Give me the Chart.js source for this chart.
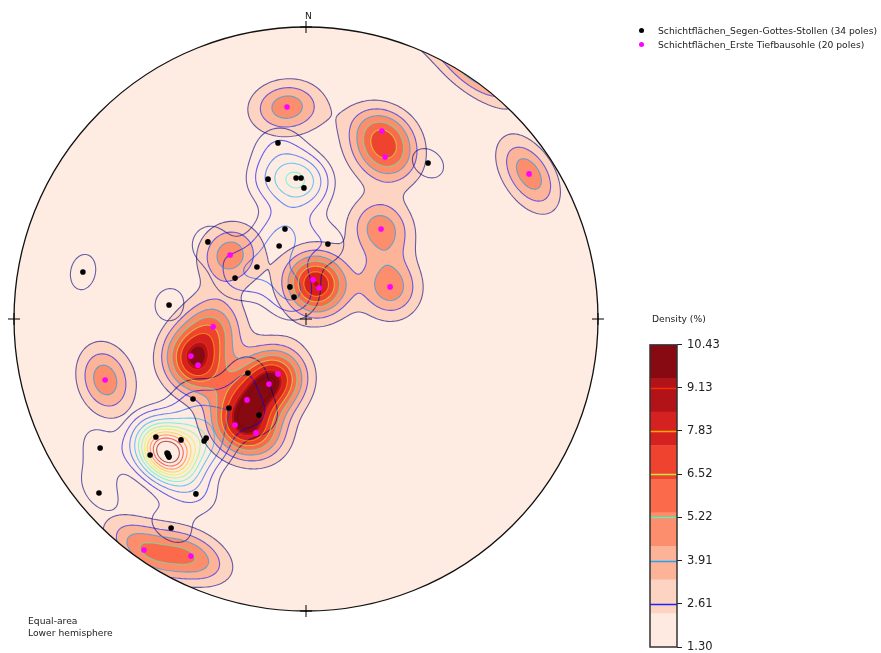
<!DOCTYPE html>
<html><head><meta charset="utf-8">
<script src="https://cdn.jsdelivr.net/npm/chart.js@4.4.0/dist/chart.umd.min.js"></script>
<style>
html,body{margin:0;padding:0;background:#fff;width:881px;height:653px;overflow:hidden;font-family:"DejaVu Sans",sans-serif;}
canvas{position:absolute;}
#main{left:0;top:0;width:881px;height:653px;}
#cbar{left:630px;top:333px;width:251px;height:330px;}
.t{position:absolute;font-size:9.2px;line-height:11px;color:#222;white-space:nowrap;}
.dot{position:absolute;width:5px;height:5px;border-radius:50%;}
</style></head><body>
<canvas id="main" width="881" height="653"></canvas>
<canvas id="cbar" width="251" height="330"></canvas>
<div class="t" style="left:305px;top:10px;">N</div>
<div class="dot" style="left:638.5px;top:27.8px;background:#000;"></div>
<div class="t" style="left:658px;top:24.8px;">Schichtflächen_Segen-Gottes-Stollen (34 poles)</div>
<div class="dot" style="left:638.5px;top:42.2px;background:#ff00ff;"></div>
<div class="t" style="left:658px;top:39.2px;">Schichtflächen_Erste Tiefbausohle (20 poles)</div>
<div class="t" style="left:652px;top:312.5px;">Density (%)</div>
<div class="t" style="left:28px;top:614.5px;">Equal-area</div>
<div class="t" style="left:28px;top:626.5px;">Lower hemisphere</div>
<script>
// ---- data: pole positions in equal-area projected units (unit circle, north up) ----
const blackX = [-0.096,-0.130,-0.034,-0.017,-0.007,-0.072,0.418,-0.336,-0.092,-0.168,-0.243,-0.055,-0.041,-0.764,-0.469,-0.199,-0.387,-0.264,-0.161,-0.342,-0.349,-0.514,-0.428,-0.705,-0.534,-0.476,-0.469,-0.709,-0.377,-0.462,0.075,-0.473,-0.470,-0.473];
const blackY = [0.603,0.479,0.483,0.483,0.449,0.308,0.534,0.264,0.250,0.178,0.140,0.110,0.075,0.161,0.048,-0.185,-0.274,-0.305,-0.329,-0.408,-0.418,-0.404,-0.414,-0.442,-0.466,-0.459,-0.473,-0.596,-0.599,-0.716,0.257,-0.466,-0.469,-0.462];
const magentaX = [-0.065,0.260,0.271,0.764,0.257,0.024,0.045,0.288,-0.260,-0.318,-0.394,-0.370,-0.688,-0.096,-0.127,-0.202,-0.243,-0.171,-0.555,-0.394];
const magentaY = [0.726,0.644,0.555,0.497,0.308,0.134,0.106,0.110,0.219,-0.027,-0.127,-0.158,-0.209,-0.188,-0.223,-0.277,-0.363,-0.390,-0.791,-0.812];
const seriesNames = ['Schichtflächen_Segen-Gottes-Stollen (34 poles)','Schichtflächen_Erste Tiefbausohle (20 poles)'];
// contour levels (%) and colour bar
const lineLevels = [1.30,2.61,3.91,5.22,6.52,7.83,9.13,10.43];
const blackLevels = [2.1,3.5,5.2,7.0,8.7,10.3,11.8,13.3,14.8,16.3,17.7];
const fillLevels = [1.30,2.61,3.91,5.22,6.52,7.83,9.13,9.70];
const fillColors = ['#feebe1','#fdd3c1','#fcb398','#fc8d6d','#fb6b4b','#f0432f','#d52221','#b21318','#870a12'];
const cbarBounds = [1.30,2.31,3.33,4.34,5.36,6.37,7.39,8.40,9.42,10.43];
const cbarTicks = [1.30,2.61,3.91,5.22,6.52,7.83,9.13,10.43];
const KF_M = 97, KF_B = 110;      // kernel concentration

// ---- helpers ----
function lerpTab(t,x){for(let i=1;i<t.length;i++){if(x<=t[i][0]){const a=t[i-1],b=t[i];return a[1]+(b[1]-a[1])*(x-a[0])/(b[0]-a[0]);}}return t[t.length-1][1];}
const JR=[[0,0],[0.35,0],[0.66,1],[0.89,1],[1,0.5]],JG=[[0,0],[0.125,0],[0.375,1],[0.64,1],[0.91,0],[1,0]],JB=[[0,0.5],[0.11,1],[0.34,1],[0.65,0],[1,0]];
function jet(x,a){return `rgba(${Math.round(255*lerpTab(JR,x))},${Math.round(255*lerpTab(JG,x))},${Math.round(255*lerpTab(JB,x))},${a})`;}
function vec(X,Y){const r2=X*X+Y*Y;const s=Math.sqrt(Math.max(0,2-r2));return [X*s,Y*s,1-r2];}
function makeDensity(xs,ys,f){const n=xs.length,amp=95/n;const P=xs.map((x,i)=>vec(x,ys[i]));
  return (v)=>{let s=0;for(let k=0;k<P.length;k++){const p=P[k];const d=Math.abs(v[0]*p[0]+v[1]*p[1]+v[2]*p[2]);s+=Math.exp(f*(d-1));}return amp*s;};}
function hexRgb(h){return [parseInt(h.slice(1,3),16),parseInt(h.slice(3,5),16),parseInt(h.slice(5,7),16)];}

function contour(ctx,g,nx,ny,gx,gy,level){
  ctx.beginPath();
  for(let j=0;j<ny-1;j++){for(let i=0;i<nx-1;i++){
    const a=g[j*nx+i],b=g[j*nx+i+1],c=g[(j+1)*nx+i+1],d=g[(j+1)*nx+i];
    const idx=(a>=level?8:0)|(b>=level?4:0)|(c>=level?2:0)|(d>=level?1:0);
    if(idx===0||idx===15)continue;
    const x0=gx[i],x1=gx[i+1],y0=gy[j],y1=gy[j+1];
    const T=()=>[x0+(x1-x0)*(level-a)/(b-a),y0],Rr=()=>[x1,y0+(y1-y0)*(level-b)/(c-b)],
          B=()=>[x0+(x1-x0)*(level-d)/(c-d),y1],L=()=>[x0,y0+(y1-y0)*(level-a)/(d-a)];
    const seg=(p,q)=>{const u=p(),w=q();ctx.moveTo(u[0],u[1]);ctx.lineTo(w[0],w[1]);};
    switch(idx){
      case 1:seg(L,B);break;case 2:seg(B,Rr);break;case 3:seg(L,Rr);break;case 4:seg(T,Rr);break;
      case 5:seg(T,Rr);seg(L,B);break;case 6:seg(T,B);break;case 7:seg(T,L);break;case 8:seg(T,L);break;
      case 9:seg(T,B);break;case 10:seg(T,L);seg(B,Rr);break;case 11:seg(T,Rr);break;case 12:seg(L,Rr);break;
      case 13:seg(B,Rr);break;case 14:seg(L,B);break;}
  }}
  ctx.stroke();
}

const stereoPlugin={id:'stereo',
  beforeDatasetsDraw(chart){
    const ctx=chart.ctx,sx=chart.scales.x,sy=chart.scales.y;
    const cx=sx.getPixelForValue(0),cy=sy.getPixelForValue(0),R=sx.getPixelForValue(1)-cx;
    const dm=makeDensity(magentaX,magentaY,KF_M),db=makeDensity(blackX,blackY,KF_B);
    const rgb=fillColors.map(hexRgb);
    const SS=2;
    const ox=Math.floor(cx-R)-1,oy=Math.floor(cy-R)-1,W=Math.ceil(2*R)+3,H=W;
    const off=document.createElement('canvas');off.width=W*SS;off.height=H*SS;
    const octx=off.getContext('2d');const img=octx.createImageData(W*SS,H*SS);const dat=img.data;
    const colX=[];for(let i=0;i<W*SS;i++)colX.push(sx.getValueForPixel(ox+(i+0.5)/SS));
    for(let j=0;j<H*SS;j++){const Y=sy.getValueForPixel(oy+(j+0.5)/SS);
      for(let i=0;i<W*SS;i++){const X=colX[i];if(X*X+Y*Y>1.004)continue;
        const d=dm(vec(X,Y));let k=0;while(k<fillLevels.length&&d>=fillLevels[k])k++;
        const o=(j*W*SS+i)*4;dat[o]=rgb[k][0];dat[o+1]=rgb[k][1];dat[o+2]=rgb[k][2];dat[o+3]=255;}}
    octx.putImageData(img,0,0);
    ctx.save();
    ctx.beginPath();ctx.arc(cx,cy,R,0,2*Math.PI);ctx.clip();
    ctx.imageSmoothingEnabled=true;ctx.imageSmoothingQuality='high';
    ctx.drawImage(off,ox,oy,W,H);
    const h=2,gx=[],gy=[];
    for(let p=cx-R-4;p<=cx+R+4;p+=h)gx.push(p);
    for(let p=cy-R-4;p<=cy+R+4;p+=h)gy.push(p);
    const nx=gx.length,ny=gy.length,gm=new Float32Array(nx*ny),gb=new Float32Array(nx*ny);
    const gX=gx.map(p=>sx.getValueForPixel(p));
    for(let j=0;j<ny;j++){const Y=sy.getValueForPixel(gy[j]);
      for(let i=0;i<nx;i++){const X=gX[i];const r2=X*X+Y*Y;
        if(r2>1.9){gm[j*nx+i]=0;gb[j*nx+i]=0;continue;}
        const v=vec(X,Y);gm[j*nx+i]=dm(v);gb[j*nx+i]=db(v);}}
    ctx.lineWidth=1.1;ctx.lineJoin='round';
    for(let k=0;k<blackLevels.length;k++){ctx.strokeStyle=jet(k/(blackLevels.length-1),0.6);contour(ctx,gb,nx,ny,gx,gy,blackLevels[k]);}
    for(let k=0;k<lineLevels.length;k++){ctx.strokeStyle=jet(k/(lineLevels.length-1),0.6);contour(ctx,gm,nx,ny,gx,gy,lineLevels[k]);}
    ctx.restore();
    ctx.save();
    ctx.beginPath();ctx.arc(cx,cy,R,0,2*Math.PI);ctx.lineWidth=1.3;ctx.strokeStyle='#111';ctx.stroke();
    ctx.lineWidth=1;ctx.strokeStyle='#000';
    const cr=[[0,0],[0,1],[0,-1],[1,0],[-1,0]];
    ctx.beginPath();
    for(const [a,b] of cr){const px=sx.getPixelForValue(a),py=sy.getPixelForValue(b);
      ctx.moveTo(px-6,py);ctx.lineTo(px+6,py);ctx.moveTo(px,py-6);ctx.lineTo(px,py+6);}
    ctx.stroke();ctx.restore();
  }
};

new Chart(document.getElementById('main'),{
  type:'scatter',
  data:{datasets:[
    {label:seriesNames[0],data:blackX.map((x,i)=>({x,y:blackY[i]})),pointRadius:2.8,pointBackgroundColor:'#000',pointBorderWidth:0,order:1,clip:false},
    {label:seriesNames[1],data:magentaX.map((x,i)=>({x,y:magentaY[i]})),pointRadius:2.8,pointBackgroundColor:'#ff00ff',pointBorderWidth:0,order:0,clip:false}
  ]},
  options:{responsive:false,animation:false,devicePixelRatio:1,
    layout:{padding:{left:14,top:27,right:283,bottom:42}},
    plugins:{legend:{display:false},tooltip:{enabled:false}},
    scales:{x:{type:'linear',min:-1,max:1,display:false},y:{type:'linear',min:-1,max:1,display:false}}},
  plugins:[stereoPlugin]
});

const cbarColors=['#feeae0','#fdd3c1','#fcb398','#fc8d6d','#fb6b4b','#f0432f','#d52221','#b21318','#870a12'];
const cbarPlugin={id:'cbarlines',
  afterDatasetsDraw(chart){const ctx=chart.ctx,ca=chart.chartArea,sy=chart.scales.y;
    ctx.save();ctx.lineWidth=1.5;
    for(let k=1;k<cbarTicks.length-1;k++){const y=Math.round(sy.getPixelForValue(cbarTicks[k]))+0.5;
      ctx.strokeStyle=jet(k/(cbarTicks.length-1),0.9);ctx.beginPath();ctx.moveTo(ca.left,y);ctx.lineTo(ca.right,y);ctx.stroke();}
    ctx.lineWidth=1.5;ctx.strokeStyle='#333';ctx.strokeRect(ca.left,ca.top,ca.right-ca.left,ca.bottom-ca.top);
    ctx.restore();}
};
new Chart(document.getElementById('cbar'),{
  type:'bar',
  data:{labels:[''],datasets:cbarColors.map((c,i)=>({data:[[cbarBounds[i],cbarBounds[i+1]]],backgroundColor:c,borderWidth:0,grouped:false,barPercentage:1,categoryPercentage:1}))},
  options:{responsive:false,animation:false,devicePixelRatio:1,
    layout:{padding:{left:20,top:10,right:154,bottom:16}},
    plugins:{legend:{display:false},tooltip:{enabled:false}},
    scales:{x:{display:false},
      y:{position:'right',min:1.30,max:10.43,
        afterBuildTicks:(s)=>{s.ticks=cbarTicks.map(v=>({value:v}));},
        afterFit:(s)=>{s.width=50;},
        ticks:{callback:(v)=>Number(v).toFixed(2),font:{family:'DejaVu Sans',size:11.5},color:'#222',padding:5,autoSkip:false},
        grid:{drawOnChartArea:false,drawTicks:true,tickLength:5,tickColor:'#222',tickWidth:1},
        border:{display:false}}}},
  plugins:[cbarPlugin]
});
</script>
</body></html>
